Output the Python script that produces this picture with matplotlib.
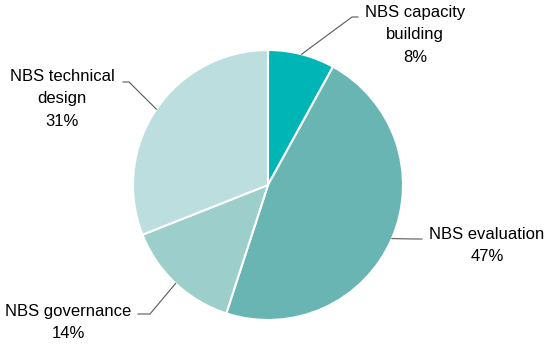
import numpy as np
import matplotlib
matplotlib.use("Agg")
import matplotlib.pyplot as plt

plt.rcParams['font.family'] = ['Liberation Sans', 'DejaVu Sans']

categories = ["NBS capacity\nbuilding", "NBS evaluation", "NBS governance", "NBS technical\ndesign"]
values = [8, 47, 14, 31]
colors = ["#00B5B5", "#69B5B4", "#9CCECC", "#BCDEDF"]

W, H = 550, 346
fig = plt.figure(figsize=(W / 100, H / 100), dpi=100)
ax = fig.add_axes([0, 0, 1, 1])

cx, cy, r = 268, H - 185, 135
wedges, _ = ax.pie(values, colors=colors, startangle=90, counterclock=False,
                   center=(cx, cy), radius=r,
                   wedgeprops=dict(edgecolor="white", linewidth=1.5))
ax.set_xlim(0, W)
ax.set_ylim(0, H)
ax.set_aspect('equal')
ax.axis('off')

# label layout: (text x, text y, elbow start, elbow end)
label_pos = [
    (415, H - 35, (352, H - 17), (358, H - 17)),
    (487, H - 245.5, (415, H - 239), (422, H - 239)),
    (68, H - 322.5, (150, H - 314), (138, H - 314)),
    (62, H - 99, (129, H - 82), (123, H - 82)),
]

for w, cat, v, (tx, ty, e1, e2) in zip(wedges, categories, values, label_pos):
    ang = np.deg2rad((w.theta1 + w.theta2) / 2)
    px = cx + r * np.cos(ang)
    py = cy + r * np.sin(ang)
    ax.plot([px, e1[0], e2[0]], [py, e1[1], e2[1]], color="#595959", lw=0.8)
    ax.text(tx, ty, f"{cat}\n{v}%", ha="center", va="center", fontsize=12,
            color="#000000", linespacing=1.6)

fig.savefig("out.png", dpi=100)
